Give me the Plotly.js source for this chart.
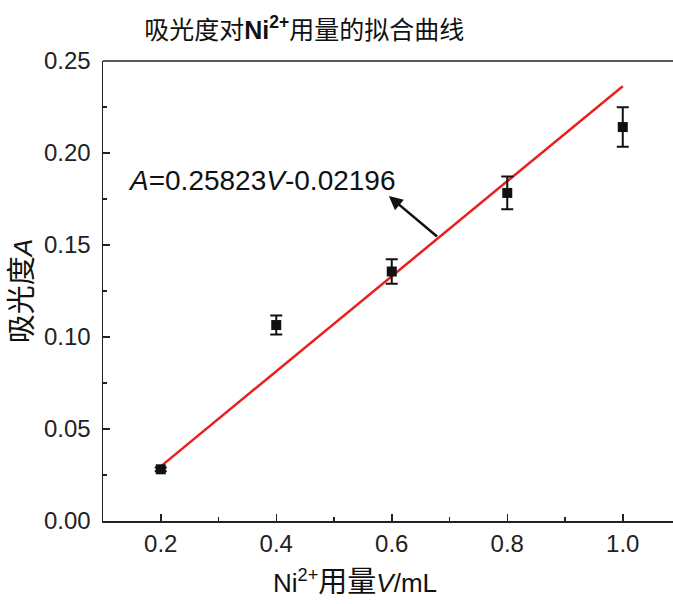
<!DOCTYPE html>
<html>
<head>
<meta charset="utf-8">
<script src="https://cdn.plot.ly/plotly-3.0.1.min.js"></script>
<style>html,body{margin:0;padding:0;background:#fff;}#chart{width:673px;height:604px;}</style>
</head>
<body>
<div id="chart"></div>
<script>
// Measured data (Ni2+ volume, absorbance, error)
const volume = [0.2, 0.4, 0.6, 0.8, 1.0];
const absorbance = [0.0281, 0.1065, 0.1356, 0.1783, 0.2141];
const absError = [0.0010, 0.0052, 0.0066, 0.0089, 0.0107];
// Fit line endpoints from A = 0.25823V - 0.02196
const fitX = [0.2, 1.0];
const fitY = [0.0297, 0.2363];
const xTicks = [0.2, 0.4, 0.6, 0.8, 1.0];
const xTickText = ['0.2', '0.4', '0.6', '0.8', '1.0'];
const yTicks = [0.00, 0.05, 0.10, 0.15, 0.20, 0.25];
const yTickText = ['0.00', '0.05', '0.10', '0.15', '0.20', '0.25'];

const numFont = 'Liberation Sans, Arial, sans-serif';
const cjkFont = 'Liberation Sans, Noto Sans CJK SC, sans-serif';
const cjk = s => '<span style="font-size:29px">' + s + '</span>';

const traces = [
  {
    x: fitX, y: fitY, type: 'scatter', mode: 'lines',
    line: {color: '#e8201e', width: 2.5},
    hoverinfo: 'skip', showlegend: false
  },
  {
    x: volume, y: absorbance, type: 'scatter', mode: 'markers',
    marker: {symbol: 'square', size: 10, color: '#111'},
    error_y: {type: 'data', array: absError, visible: true, color: '#111', thickness: 2, width: 6},
    showlegend: false
  }
];

const layout = {
  width: 673, height: 604,
  margin: {l: 103, r: 0, t: 61, b: 83},
  paper_bgcolor: '#fff', plot_bgcolor: '#fff',
  font: {family: numFont, color: '#111'},
  title: {
    text: '吸光度对<b>Ni<sup>2+</sup></b>用量的拟合曲线',
    font: {family: cjkFont, size: 25, color: '#111'},
    xref: 'container', x: 0.452, xanchor: 'center',
    yref: 'container', y: 0.95, yanchor: 'middle'
  },
  xaxis: {
    range: [0.1, 1.087],
    tickvals: xTicks, ticktext: xTickText,
    ticks: 'inside', ticklen: 7, tickwidth: 1.5, tickcolor: '#222',
    minor: {ticks: 'inside', ticklen: 4, tickwidth: 1.2, tickcolor: '#222', dtick: 0.1, tick0: 0.1},
    showline: true, linecolor: '#222', linewidth: 1.5,
    showgrid: false, zeroline: false,
    tickfont: {family: numFont, size: 24, color: '#222'},
    ticklabelstandoff: 1
  },
  yaxis: {
    range: [0, 0.25],
    tickvals: yTicks, ticktext: yTickText,
    ticks: 'inside', ticklen: 7, tickwidth: 1.5, tickcolor: '#222',
    minor: {ticks: 'inside', ticklen: 4, tickwidth: 1.2, tickcolor: '#222', dtick: 0.025, tick0: 0},
    showline: true, linecolor: '#222', linewidth: 1.5,
    showgrid: false, zeroline: false,
    tickfont: {family: numFont, size: 24, color: '#222'},
    ticklabelstandoff: 6,
    title: {text: cjk('吸光度') + '<i>A</i>', font: {family: cjkFont, size: 26, color: '#111'}, standoff: 4}
  },
  shapes: [
    {type: 'line', xref: 'paper', yref: 'paper', x0: 0, x1: 1, y0: 1, y1: 1, line: {color: '#222', width: 1.5}}
  ],
  annotations: [
    {
      x: 0.442, y: -0.1326, xref: 'paper', yref: 'paper',
      text: 'Ni<sup>2+</sup>' + cjk('用量') + '<i>V</i>/mL', showarrow: false,
      font: {family: cjkFont, size: 26, color: '#111'},
      xanchor: 'center', yanchor: 'middle'
    },
    {
      x: 0.595, y: 0.1766, xref: 'x', yref: 'y',
      ax: 0.681, ay: 0.1539, axref: 'x', ayref: 'y',
      text: '', showarrow: true, arrowhead: 2, arrowsize: 1.1, arrowwidth: 2.5, arrowcolor: '#111'
    },
    {
      x: 0.375, y: 0.1853, xref: 'x', yref: 'y',
      text: '<i>A</i>=0.25823<i>V</i>-0.02196', showarrow: false,
      font: {family: numFont, size: 28, color: '#111'},
      xanchor: 'center', yanchor: 'middle'
    }
  ]
};

Plotly.newPlot('chart', traces, layout, {displayModeBar: false, staticPlot: true});
</script>
</body>
</html>
